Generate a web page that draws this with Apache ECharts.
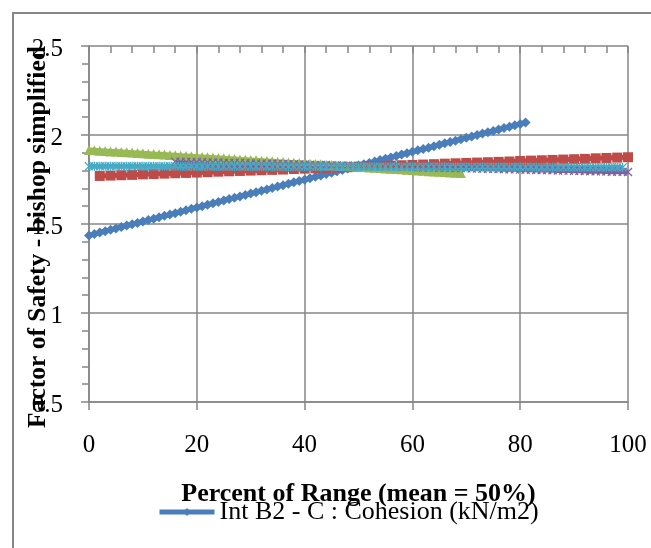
<!DOCTYPE html>
<html>
<head>
<meta charset="utf-8">
<script src="https://cdn.jsdelivr.net/npm/echarts@6/dist/echarts.min.js"></script>
<style>
    html, body { margin: 0; padding: 0; background: #fff; }
    #chart { width: 651px; height: 548px; }
</style>
</head>
<body>
<div id="chart"></div>
<script>
/* data ---------------------------------------------------------------- */
const pct = [0,1,2,3,4,5,6,7,8,9,10,11,12,13,14,15,16,17,18,19,20,21,22,23,24,25,26,27,28,29,30,
    31,32,33,34,35,36,37,38,39,40,41,42,43,44,45,46,47,48,49,50,51,52,53,54,55,56,57,58,59,60,
    61,62,63,64,65,66,67,68,69,70,71,72,73,74,75,76,77,78,79,80,81,82,83,84,85,86,87,88,89,90,
    91,92,93,94,95,96,97,98,99,100]

// Int B2 - C : Cohesion, 0 .. 81 %
const cohesionFs = [1.436,1.444,1.452,1.459,1.467,1.475,1.483,1.491,1.499,1.506,1.514,1.522,1.530,
    1.538,1.546,1.553,1.561,1.569,1.577,1.585,1.593,1.600,1.608,1.616,1.624,1.632,1.640,1.647,1.655,
    1.663,1.671,1.679,1.687,1.694,1.702,1.710,1.718,1.726,1.734,1.741,1.749,1.757,1.765,1.773,1.781,
    1.788,1.796,1.804,1.812,1.820,1.828,1.835,1.843,1.851,1.859,1.867,1.874,1.882,1.890,1.898,1.906,
    1.914,1.921,1.929,1.937,1.945,1.953,1.961,1.968,1.976,1.984,1.992,2.000,2.008,2.015,2.023,2.031,
    2.039,2.047,2.055,2.062,2.070]

// red squares, 2 .. 100 % every 2
const redPct = [2,4,6,8,10,12,14,16,18,20,22,24,26,28,30,32,34,36,38,40,42,44,46,48,50,
    52,54,56,58,60,62,64,66,68,70,72,74,76,78,80,82,84,86,88,90,92,94,96,98,100]
const redFs = [1.770,1.772,1.774,1.776,1.779,1.781,1.783,1.785,1.787,1.789,1.791,1.794,1.796,1.798,
    1.800,1.802,1.804,1.806,1.809,1.811,1.813,1.815,1.817,1.819,1.821,1.824,1.826,1.828,1.830,1.832,
    1.834,1.836,1.839,1.841,1.843,1.845,1.847,1.849,1.851,1.854,1.856,1.858,1.860,1.862,1.864,1.866,
    1.869,1.871,1.873,1.875]

// green triangles, 0 .. 69 %
const greenFs = [1.916,1.914,1.912,1.910,1.908,1.907,1.905,1.903,1.901,1.899,1.897,1.895,1.893,1.892,
    1.890,1.888,1.886,1.884,1.882,1.880,1.878,1.876,1.875,1.873,1.871,1.869,1.867,1.865,1.863,1.861,
    1.859,1.858,1.856,1.854,1.852,1.850,1.848,1.846,1.844,1.843,1.841,1.839,1.837,1.835,1.833,1.831,
    1.829,1.827,1.826,1.824,1.822,1.820,1.818,1.816,1.814,1.812,1.810,1.809,1.807,1.805,1.803,1.801,
    1.799,1.797,1.795,1.794,1.792,1.790,1.788,1.786]

// purple crosses, 16 .. 100 %
const purpleStart = 16
const purpleFs = [1.850,1.849,1.849,1.848,1.847,1.847,1.846,1.845,1.845,1.844,1.843,1.843,1.842,1.841,
    1.840,1.840,1.839,1.838,1.838,1.837,1.836,1.836,1.835,1.834,1.834,1.833,1.832,1.832,1.831,1.830,
    1.829,1.829,1.828,1.827,1.827,1.826,1.825,1.825,1.824,1.823,1.823,1.822,1.821,1.821,1.820,1.819,
    1.818,1.818,1.817,1.816,1.816,1.815,1.814,1.814,1.813,1.812,1.812,1.811,1.810,1.810,1.809,1.808,
    1.807,1.807,1.806,1.805,1.805,1.804,1.803,1.803,1.802,1.801,1.801,1.800,1.799,1.799,1.798,1.797,
    1.796,1.796,1.795,1.794,1.794,1.793,1.792]

// cyan stars, 0 .. 100 %
const cyanFs = [1.824,1.824,1.824,1.824,1.824,1.824,1.824,1.824,1.824,1.824,1.824,1.824,1.824,1.824,
    1.824,1.824,1.824,1.823,1.823,1.823,1.823,1.823,1.823,1.823,1.823,1.823,1.823,1.823,1.823,1.823,
    1.823,1.823,1.823,1.823,1.822,1.822,1.822,1.822,1.822,1.822,1.822,1.822,1.822,1.822,1.822,1.822,
    1.822,1.822,1.822,1.822,1.822,1.821,1.821,1.821,1.821,1.821,1.821,1.821,1.821,1.821,1.821,1.821,
    1.821,1.821,1.821,1.821,1.821,1.820,1.820,1.820,1.820,1.820,1.820,1.820,1.820,1.820,1.820,1.820,
    1.820,1.820,1.820,1.820,1.820,1.819,1.819,1.819,1.819,1.819,1.819,1.819,1.819,1.819,1.819,1.819,
    1.819,1.819,1.819,1.819,1.819,1.818]

const legendName = 'Int B2 - C : Cohesion (kN/m2)'

/* chart --------------------------------------------------------------- */
const font = "'Liberation Serif', 'Times New Roman', serif"
const gridColor = '#868686'
const crossSymbol = 'path://M0,1L1,0L5,4L9,0L10,1L6,5L10,9L9,10L5,6L1,10L0,9L4,5Z'
const starSymbol = 'path://M0,1L1,0L5,4L9,0L10,1L6,5L10,9L9,10L5,6L1,10L0,9L4,5Z M4.3,0L5.7,0L5.7,10L4.3,10Z'

const pairs = (xs, ys, off) => ys.map((v, i) => [xs[i + off], v])

const line = (name, color, symbol, size, data) => ({
    name: name,
    type: 'line',
    data: data,
    symbol: symbol,
    symbolSize: size,
    lineStyle: { color: color, width: 5 },
    itemStyle: { color: color },
    animation: false
})

const chart = echarts.init(document.getElementById('chart'))
chart.setOption({
    backgroundColor: '#fff',
    textStyle: { fontFamily: font },
    grid: { left: 89, right: 23, top: 46, bottom: 146, containLabel: false, outerBoundsMode: 'none' },
    legend: {
        data: [legendName],
        left: 152,
        top: 494,
        itemWidth: 55,
        itemHeight: 10,
        lineStyle: { width: 5 },
        textStyle: { fontFamily: font, fontSize: 26, color: '#000' }
    },
    xAxis: [
        {
            type: 'value', min: 0, max: 100, interval: 20,
            axisLine: { lineStyle: { color: gridColor, width: 1.5 } },
            axisTick: { show: true, inside: false, length: 8, lineStyle: { color: gridColor, width: 1.5 } },
            splitLine: { show: true, lineStyle: { color: gridColor, width: 1.5 } },
            axisLabel: { fontFamily: font, fontSize: 25, color: '#000', margin: 31 },
            name: 'Percent of Range (mean = 50%)',
            nameLocation: 'middle',
            nameGap: 79,
            nameTextStyle: { fontFamily: font, fontSize: 26, fontWeight: 'bold', color: '#000' }
        },
        {
            type: 'value', min: 0, max: 100, interval: 20,
            axisLine: { show: false },
            axisLabel: { show: false },
            splitLine: { show: false },
            axisTick: { show: true, inside: true, length: 7, lineStyle: { color: gridColor, width: 1.5 } },
            minorTick: { show: true, splitNumber: 5, length: 7, lineStyle: { color: gridColor, width: 1.5 } }
        }
    ],
    yAxis: [
        {
            type: 'value', min: 0.5, max: 2.5, interval: 0.5,
            axisLine: { show: true, lineStyle: { color: gridColor, width: 1.5 } },
            axisTick: { show: true, inside: false, length: 8, lineStyle: { color: gridColor, width: 1.5 } },
            splitLine: { show: true, lineStyle: { color: gridColor, width: 1.5 } },
            axisLabel: {
                margin: 26,
                formatter: '{v|{value}}',
                rich: { v: { fontFamily: font, fontSize: 25, color: '#000', padding: [7, 0, 0, 0] } }
            }
        },
        {
            type: 'value', min: 0.5, max: 2.5, interval: 0.5,
            axisLine: { show: false },
            axisLabel: { show: false },
            splitLine: { show: false },
            axisTick: { show: true, inside: true, length: 7, lineStyle: { color: gridColor, width: 1.5 } },
            minorTick: { show: true, splitNumber: 5, length: 7, lineStyle: { color: gridColor, width: 1.5 } }
        }
    ],
    graphic: [
        {
            type: 'rect', z: -1, silent: true,
            shape: { x: 13, y: 13, width: 700, height: 600 },
            style: { fill: 'none', stroke: gridColor, lineWidth: 2 }
        },
        {
            type: 'text', z: 100, silent: true,
            x: 38, y: 237, rotation: Math.PI / 2,
            style: {
                text: 'Factor of Safety - bishop simplified',
                font: "bold 25.5px " + font,
                fill: '#000',
                align: 'center',
                verticalAlign: 'middle'
            }
        }
    ],
    series: [
        line(legendName, '#4A7EBB', 'diamond', 10, pairs(pct, cohesionFs, 0)),
        line('Series 2', '#BE4B48', 'rect', 10, pairs(redPct, redFs, 0)),
        line('Series 3', '#98B954', 'triangle', 10, pairs(pct, greenFs, 0)),
        line('Series 4', '#7D60A0', crossSymbol, 9, pairs(pct, purpleFs, purpleStart)),
        line('Series 5', '#46AAC5', starSymbol, 9, pairs(pct, cyanFs, 0))
    ]
})
</script>
</body>
</html>
